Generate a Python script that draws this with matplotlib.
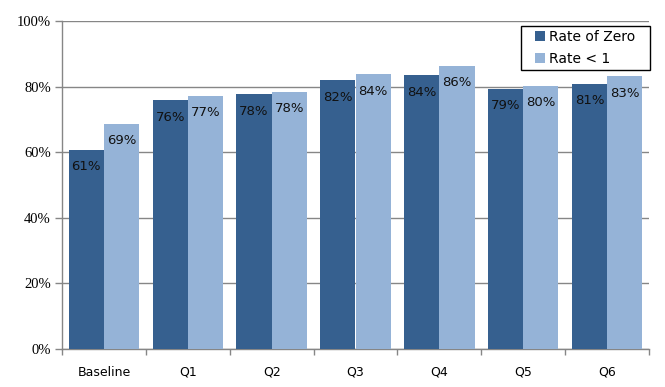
import matplotlib
matplotlib.use("Agg")
import matplotlib.pyplot as plt
import numpy as np
from matplotlib.ticker import FixedLocator, PercentFormatter
from matplotlib.patches import Rectangle

categories = ["Baseline", "Q1", "Q2", "Q3", "Q4", "Q5", "Q6"]
rate_zero = [60.7, 75.9, 77.7, 82.0, 83.5, 79.3, 80.8]
rate_lt1 = [68.7, 77.2, 78.4, 83.8, 86.3, 80.2, 83.2]
series_names = ["Rate of Zero", "Rate < 1"]

dark = "#36608F"
light = "#95B3D7"
grid_c = "#868686"

fig = plt.figure(figsize=(6.65, 3.87), dpi=100)
ax = fig.add_axes([62/665, 38/387, 587/665, 328/387])

x = np.arange(len(categories))
w = 0.42
b1 = ax.bar(x - w/2, rate_zero, w, color=dark, label=series_names[0], zorder=3)
b2 = ax.bar(x + w/2, rate_lt1, w, color=light, label=series_names[1], zorder=3)

for bars in (b1, b2):
    for r in bars:
        h = r.get_height()
        ax.annotate(f"{h:.0f}%", (r.get_x() + r.get_width()/2, h),
                    xytext=(0, -17), textcoords="offset pixels",
                    ha="center", va="center", fontsize=9.5, color="#111111", zorder=4)

ax.set_xlim(-0.5, len(categories) - 0.5)
ax.set_ylim(0, 100)
ax.set_yticks(np.arange(0, 101, 20))
ax.yaxis.set_major_formatter(PercentFormatter(decimals=0))
for lab in ax.get_yticklabels():
    lab.set_fontfamily("Liberation Serif")
    lab.set_fontsize(10.5)
ax.tick_params(axis="y", length=5, width=1, color=grid_c, pad=3)
ax.grid(axis="y", color=grid_c, linewidth=1, zorder=0)

ax.set_xticks(x)
ax.set_xticklabels(categories, fontsize=9)
ax.tick_params(axis="x", which="major", length=0, pad=12)
ax.xaxis.set_minor_locator(FixedLocator(np.arange(-0.5, len(categories), 1.0)))
ax.tick_params(axis="x", which="minor", length=4, width=1, color=grid_c)

for s in ("top", "right"):
    ax.spines[s].set_visible(False)
for s in ("left", "bottom"):
    ax.spines[s].set_color(grid_c)
    ax.spines[s].set_linewidth(1)

# legend frame (Excel style, wide padding)
frame = Rectangle(((521-62)/587, (349-70)/328), 129/587, 44/328,
                  transform=ax.transAxes, facecolor="white", edgecolor="black",
                  linewidth=1, zorder=5, clip_on=False)
ax.add_patch(frame)
leg = ax.legend(loc="center left", bbox_to_anchor=((535-62)/587, (349-48)/328),
                fontsize=10, frameon=False,
                handlelength=0.75, handleheight=0.75, handletextpad=0.25,
                borderaxespad=0, borderpad=0, labelspacing=0.55)
leg.set_zorder(6)

fig.savefig("out.png", dpi=100)
